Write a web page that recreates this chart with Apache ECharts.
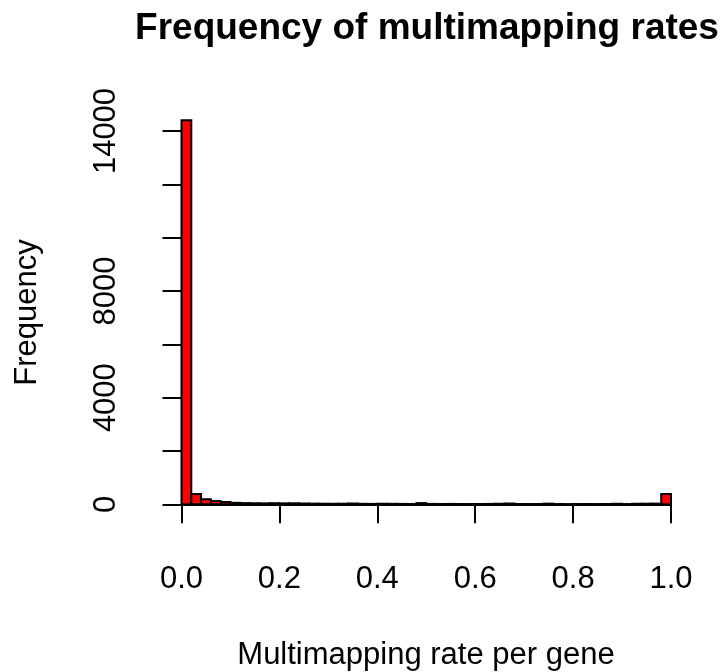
<!DOCTYPE html>
<html><head><meta charset="utf-8">
<script src="https://cdn.jsdelivr.net/npm/echarts@6/dist/echarts.min.js"></script>
<style>html,body{margin:0;padding:0;background:#fff}#chart{width:723px;height:672px}</style>
</head><body><div id="chart"></div>
<script>
const breaks = [0.00,0.02,0.04,0.06,0.08,0.10,0.12,0.14,0.16,0.18,0.20,0.22,0.24,0.26,0.28,0.30,0.32,0.34,0.36,0.38,0.40,0.42,0.44,0.46,0.48,0.50,0.52,0.54,0.56,0.58,0.60,0.62,0.64,0.66,0.68,0.70,0.72,0.74,0.76,0.78,0.80,0.82,0.84,0.86,0.88,0.90,0.92,0.94,0.96,0.98,1.00];
const counts = [14400,385,190,125,85,55,45,40,35,40,35,38,30,25,22,20,22,30,18,15,20,18,15,12,45,15,12,15,12,10,12,15,20,30,12,10,12,25,10,8,10,12,10,12,20,10,20,22,25,385];
const xTicks = [0.0,0.2,0.4,0.6,0.8,1.0];
const yLabels = [0,4000,8000,14000];
const titleText = 'Frequency of multimapping rates';
const xTitle = 'Multimapping rate per gene';
const yTitle = 'Frequency';

const FONT = '"Liberation Sans", Arial, Helvetica, sans-serif';
const data = counts.map((c,i)=>[breaks[i], breaks[i+1], c]);
const chart = echarts.init(document.getElementById('chart'), null, {renderer:'canvas'});
chart.setOption({
  animation:false,
  backgroundColor:'#fff',
  grid:{left:181.5, right:52, top:131, bottom:167.7},
  xAxis:{type:'value', min:0, max:1, interval:0.2, offset:16,
    axisLine:{lineStyle:{color:'#000', width:2}},
    axisTick:{length:19, lineStyle:{color:'#000', width:2}},
    axisLabel:{fontSize:31, color:'#000', fontFamily:FONT, margin:44,
      formatter:v=>{const t=xTicks.find(k=>Math.abs(k-v)<1e-9);return t===undefined?'':t.toFixed(1);}},
    splitLine:{show:false}},
  yAxis:{type:'value', min:0, max:14000, interval:2000, offset:20,
    axisLine:{show:true, lineStyle:{color:'#000', width:2}},
    axisTick:{show:true, length:19, lineStyle:{color:'#000', width:2}},
    axisLabel:{rotate:90, fontSize:31, color:'#000', fontFamily:FONT, margin:39.5, showMinLabel:true, showMaxLabel:true,
      formatter:v=>yLabels.includes(v)?String(v):''},
    splitLine:{show:false}},
  graphic:[
    {type:'text', x:427, y:28.8, style:{text:titleText, font:'bold 37px '+FONT, fill:'#000', align:'center', verticalAlign:'middle', textAlign:'center', textVerticalAlign:'middle'}},
    {type:'text', x:426, y:655, style:{text:xTitle, font:'31px '+FONT, fill:'#000', align:'center', verticalAlign:'middle', textAlign:'center', textVerticalAlign:'middle'}},
    {type:'text', x:27.4, y:312.5, rotation:Math.PI/2, style:{text:yTitle, font:'31px '+FONT, fill:'#000', align:'center', verticalAlign:'middle', textAlign:'center', textVerticalAlign:'middle'}}
  ],
  series:[{type:'custom', clip:false, data:data, encode:{x:[0,1], y:2},
    renderItem:(params, api)=>{
      const p0 = api.coord([api.value(0), 0]);
      const p1 = api.coord([api.value(1), api.value(2)]);
      return {type:'rect', shape:{x:p0[0], y:p1[1], width:p1[0]-p0[0], height:p0[1]-p1[1]},
        style:{fill:'#ff0000', stroke:'#000', lineWidth:2}};
    }}]
});
</script></body></html>
